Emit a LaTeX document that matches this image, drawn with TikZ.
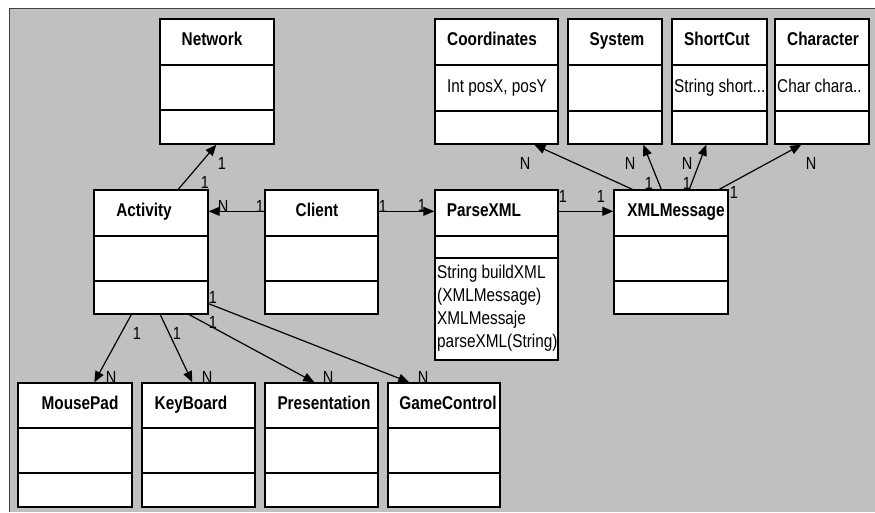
\documentclass[tikz,border=0pt]{standalone}
\usepackage{fontspec}
\setmainfont[FakeStretch=0.83]{Liberation Sans}
\usetikzlibrary{arrows.meta,calc}
\definecolor{panel}{HTML}{C0C0C0}
\definecolor{panelline}{HTML}{404040}
\tikzset{
  cls/.style={draw=black, line width=1.4pt, fill=white, inner sep=0pt, rectangle},
  divl/.style={line width=1.4pt},
  ttl/.style={font=\fontsize{18.5}{20}\selectfont\bfseries, inner sep=0pt, anchor=base},
  attr/.style={font=\fontsize{18.5}{23}\selectfont, inner sep=0pt, anchor=base west},
  mult/.style={font=\fontsize{17.5}{17.5}\selectfont, inner sep=0pt},
  assoc/.style={line width=1.2pt, -{Triangle[length=11pt,width=9pt]}},
}
% name x1 y1 x2 y2 d1 d2 titlex title
\newcommand\umlcls[9]{%
  \node[cls, minimum width={(#4-#2)*1pt}, minimum height={(#5-#3)*1pt}] (#1) at ({(#2+#4)/2},{(#3+#5)/2}) {};
  \draw[divl] (#1.west |- 0,#6) -- (#1.east |- 0,#6);
  \draw[divl] (#1.west |- 0,#7) -- (#1.east |- 0,#7);
  \node[ttl] (#1-t) at (#8,{#3+26}) {#9};
}
\begin{document}
\begin{tikzpicture}[x=1pt,y=-1pt]
\useasboundingbox (0,0) rectangle (875,512);
\fill[panel] (9,8) rectangle (875,512);
\draw[panelline, line width=1pt] (9,512) -- (9,8) -- (875,8);

\umlcls{network}{160}{19}{274}{144}{65}{110}{212}{Network}
\umlcls{coord}{435}{19}{558}{144}{65}{111}{492}{Coordinates}
\umlcls{system}{568}{19}{662}{144}{65}{111}{617}{System}
\umlcls{shortcut}{672}{19}{767}{144}{65}{111}{717}{ShortCut}
\umlcls{character}{775}{19}{869}{144}{65}{111}{823}{Character}

\umlcls{activity}{94}{190}{208}{314}{236}{281}{144}{Activity}
\umlcls{client}{265}{190}{378}{314}{236}{281}{317}{Client}
\umlcls{parsexml}{435}{190}{558}{360}{236}{258}{484}{ParseXML}
\umlcls{xmlmsg}{614}{190}{728}{314}{236}{281}{676}{XMLMessage}

\umlcls{mousepad}{18}{383}{132}{507}{428}{473}{80}{MousePad}
\umlcls{keyboard}{142}{383}{255}{507}{428}{473}{191}{KeyBoard}
\umlcls{presentation}{265}{383}{378}{507}{428}{473}{324}{Presentation}
\umlcls{gamecontrol}{388}{383}{500}{507}{428}{473}{448}{GameControl}

% attributes / operations
\node[attr, anchor=base] (coord-a) at (497,92) {Int posX, posY};
\node[attr] (shortcut-a) at (674,92) {String short...};
\node[attr] (character-a) at (777,92) {Char chara..};
\node[attr] (parse-o1) at (437,278) {String buildXML};
\node[attr] (parse-o2) at (437,301) {(XMLMessage)};
\node[attr] (parse-o3) at (437,324) {XMLMessaje};
\node[attr] (parse-o4) at (437,347) {parseXML(String)};

% connectors
\draw[assoc] ([xshift=85pt]activity.north west) -- ([xshift=57pt]network.south west);
\draw[assoc] ([yshift=-22pt]client.north west) -- ([yshift=-22pt]activity.north east);
\draw[assoc] ([yshift=-22pt]client.north east) -- ([yshift=-22pt]parsexml.north west);
\draw[assoc] ([yshift=-22pt]parsexml.north east) -- ([yshift=-22pt]xmlmsg.north west);
\draw[assoc] ([xshift=19pt]xmlmsg.north west) -- ([xshift=100pt]coord.south west);
\draw[assoc] ([xshift=48pt]xmlmsg.north west) -- ([xshift=76pt]system.south west);
\draw[assoc] ([xshift=76pt]xmlmsg.north west) -- ([xshift=35pt]shortcut.south west);
\draw[assoc] ([xshift=106pt]xmlmsg.north west) -- ([xshift=27pt]character.south west);
\draw[assoc] ([xshift=38pt]activity.south west) -- ([xshift=77pt]mousepad.north west);
\draw[assoc] ([xshift=67pt]activity.south west) -- ([xshift=51pt]keyboard.north west);
\draw[assoc] ([xshift=96pt]activity.south west) -- ([xshift=50pt]presentation.north west);
\draw[assoc] ([yshift=11pt]activity.south east) -- ([xshift=22pt]gamecontrol.north west);

% multiplicities
\node[mult] (m1) at (222,163) {1};
\node[mult] (m2) at (205,182) {1};
\node[mult] (m3) at (223,206) {N};
\node[mult] (m4) at (260,206) {1};
\node[mult] (m5) at (383,206) {1};
\node[mult] (m6) at (422,205) {1};
\node[mult] (m7) at (563,196) {1};
\node[mult] (m8) at (601,196) {1};
\node[mult] (m9) at (525,163) {N};
\node[mult] (m10) at (630,163) {N};
\node[mult] (m11) at (687,163) {N};
\node[mult] (m12) at (811,163) {N};
\node[mult] (m13) at (649,183) {1};
\node[mult] (m14) at (687,183) {1};
\node[mult] (m15) at (734,192) {1};
\node[mult] (m16) at (137,333) {1};
\node[mult] (m17) at (177,333) {1};
\node[mult] (m18) at (213,322) {1};
\node[mult] (m19) at (213,297) {1};
\node[mult, anchor=south] (m20) at (111,384) {N};
\node[mult, anchor=south] (m21) at (207,384) {N};
\node[mult, anchor=south] (m22) at (328,384) {N};
\node[mult, anchor=south] (m23) at (423,384) {N};
\end{tikzpicture}
\end{document}
